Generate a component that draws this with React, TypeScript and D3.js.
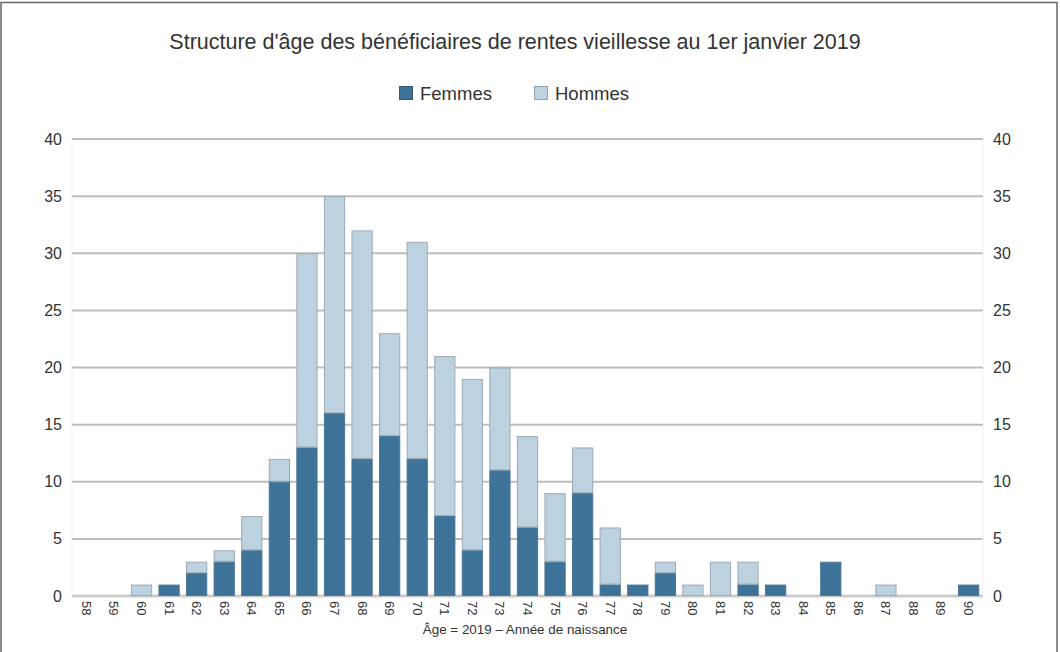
import React from 'react';
import * as d3 from 'd3';

const ages = [58, 59, 60, 61, 62, 63, 64, 65, 66, 67, 68, 69, 70, 71, 72, 73, 74, 75, 76, 77, 78, 79, 80, 81, 82, 83, 84, 85, 86, 87, 88, 89, 90];
const femmes = [0, 0, 0, 1, 2, 3, 4, 10, 13, 16, 12, 14, 12, 7, 4, 11, 6, 3, 9, 1, 1, 2, 0, 0, 1, 1, 0, 3, 0, 0, 0, 0, 1];
const hommes = [0, 0, 1, 0, 1, 1, 3, 2, 17, 19, 20, 9, 19, 14, 15, 9, 8, 6, 4, 5, 0, 1, 1, 3, 2, 0, 0, 0, 0, 1, 0, 0, 0];
const yTicks = [0, 5, 10, 15, 20, 25, 30, 35, 40];

const W = 1060;
const H = 652;
const FONT = "'Liberation Sans', Arial, sans-serif";
const C_F = '#3e7399';
const C_H = '#bcd2e0';

export default function App() {
  // scales
  const x = d3.scaleBand<number>().domain(ages).range([73, 982]).paddingInner(0.23).paddingOuter(0.1);
  const y = d3.scaleLinear().domain([0, 40]).range([596, 139]);
  const rows = ages.map((a, i) => ({ age: a, f: femmes[i], h: hommes[i] }));

  return (
    <div style={{ position: 'absolute', left: 0, top: 0 }}>
      <svg width={W} height={H} style={{ display: 'block', fontFamily: FONT }}>
        <rect x={0} y={0} width={W} height={H} fill="#fff" />
        <rect x={1} y={2.5} width={1056} height={700} fill="none" stroke="#666" strokeWidth={1.5} />

        {/* title */}
        <text x={515} y={49} textAnchor="middle" fontSize={21.5} fill="#333">
          Structure d'âge des bénéficiaires de rentes vieillesse au 1er janvier 2019
        </text>

        {/* legend */}
        <g fontSize={18.5} fill="#333">
          <rect x={399.5} y={86.5} width={13} height={13} fill={C_F} stroke="#2f5a78" />
          <text x={420} y={100}>Femmes</text>
          <rect x={534.5} y={86.5} width={13} height={13} fill={C_H} stroke="#8fa3b0" />
          <text x={555} y={100}>Hommes</text>
        </g>

        {/* gridlines */}
        <line x1={72} x2={72} y1={139} y2={596} stroke="#f0f0f0" />
        <line x1={983} x2={983} y1={139} y2={596} stroke="#f0f0f0" />
        {yTicks.map(t => (
          <g key={t}>
            <line x1={72} x2={983} y1={y(t)} y2={y(t)} stroke={t === 0 ? '#cccccc' : '#bdbdbd'} strokeWidth={t === 0 ? 3 : 2} />
            <text x={62} y={y(t)} dy="0.35em" textAnchor="end" fontSize={16} fill="#333">{t}</text>
            <text x={993} y={y(t)} dy="0.35em" textAnchor="start" fontSize={16} fill="#333">{t}</text>
          </g>
        ))}

        {/* bars */}
        {rows.map(r => {
          const bx = x(r.age)!;
          const bw = x.bandwidth();
          return (
            <g key={r.age}>
              {r.h > 0 && (
                <rect x={bx + 0.5} y={y(r.f + r.h) + 0.5} width={bw - 1} height={y(0) - y(r.h) - 1}
                  fill={C_H} stroke="#9eaab3" strokeWidth={1} />
              )}
              {r.f > 0 && (
                <rect x={bx + 0.5} y={y(r.f) + 0.5} width={bw - 1} height={y(0) - y(r.f) - 1}
                  fill={C_F} stroke="#4a7796" strokeWidth={1} />
              )}
            </g>
          );
        })}

        {/* x tick labels */}
        {ages.map(a => {
          const cx = x(a)! + x.bandwidth() / 2;
          return (
            <text key={a} transform={`translate(${cx},${601}) rotate(90)`} dy="0.35em" fontSize={13} fill="#333">
              {a}
            </text>
          );
        })}

        <text x={525} y={634} textAnchor="middle" fontSize={13.4} fill="#333">
          Âge = 2019 – Année de naissance
        </text>
      </svg>
    </div>
  );
}
